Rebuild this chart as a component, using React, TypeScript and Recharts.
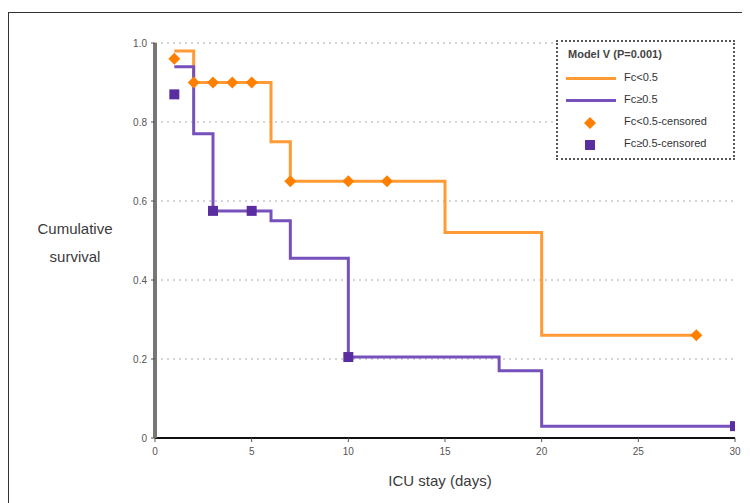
import React from 'react';
import {
  ComposedChart,
  Line,
  Scatter,
  XAxis,
  YAxis,
  CartesianGrid
} from 'recharts';

// Kaplan-Meier steps
const lowDays = [1, 2, 6, 7, 15, 20, 28];
const lowSurvival = [0.98, 0.9, 0.75, 0.65, 0.52, 0.26, 0.26];

const highDays = [1, 2, 3, 6, 7, 10, 17.8, 20, 30];
const highSurvival = [0.94, 0.77, 0.575, 0.55, 0.455, 0.205, 0.17, 0.03, 0.03];

// censored observations
const lowCensoredDays = [1, 2, 3, 4, 5, 7, 10, 12, 28];
const lowCensoredSurvival = [0.96, 0.9, 0.9, 0.9, 0.9, 0.65, 0.65, 0.65, 0.26];

const highCensoredDays = [1, 3, 5, 10, 30];
const highCensoredSurvival = [0.87, 0.575, 0.575, 0.205, 0.03];

const xTicks = [0, 5, 10, 15, 20, 25, 30];
const yTicks = [0, 0.2, 0.4, 0.6, 0.8, 1];

const legendTitle = 'Model V (P=0.001)';
const lowLabel = 'Fc<0.5';
const highLabel = 'Fc\u22650.5';

const ORANGE = '#ff9a35';
const PURPLE = '#7650bb';
const ORANGE_MARK = '#ff8000';
const PURPLE_MARK = '#5a2ea0';

const zip = (xs: number[], ys: number[]) => xs.map((x, i) => ({ x, y: ys[i] }));

const lowData = zip(lowDays, lowSurvival);
const highData = zip(highDays, highSurvival);
const lowCensored = zip(lowCensoredDays, lowCensoredSurvival);
const highCensored = zip(highCensoredDays, highCensoredSurvival);

const Diamond = (props: any) => {
  const { cx, cy } = props;
  const r = 6;
  return (
    <polygon
      points={`${cx},${cy - r} ${cx + r},${cy} ${cx},${cy + r} ${cx - r},${cy}`}
      fill={ORANGE_MARK}
    />
  );
};

const Square = (props: any) => {
  const { cx, cy } = props;
  const s = 10;
  return <rect x={cx - s / 2} y={cy - s / 2} width={s} height={s} fill={PURPLE_MARK} />;
};

const labelStyle: React.CSSProperties = {
  position: 'absolute',
  fontFamily: '"Liberation Sans", Arial, sans-serif',
  color: '#3a3a3a'
};

export default function App() {
  return (
    <div style={{ position: 'relative', width: 750, height: 503, margin: '-8px 0 0 -8px', background: '#fff', overflow: 'hidden' }}>
      <div
        style={{
          position: 'absolute',
          left: 8,
          top: 12,
          width: 800,
          height: 600,
          borderTop: '1.5px solid #333',
          borderLeft: '1.5px solid #333'
        }}
      />
      <ComposedChart
        width={750}
        height={503}
        margin={{ top: 43, right: 15, bottom: 35, left: 95 }}
        style={{ position: 'absolute', left: 0, top: 0 }}
      >
        <CartesianGrid vertical={false} stroke="#aaa" strokeDasharray="2 4" />
        <XAxis
          dataKey="x"
          type="number"
          domain={[0, 30]}
          ticks={xTicks}
          allowDataOverflow
          height={30}
          axisLine={{ stroke: '#111', strokeWidth: 2 }}
          tickLine={{ stroke: '#555' }}
          tickSize={4}
          tick={{ fontSize: 10, fill: '#555', fontFamily: '"Liberation Sans", Arial, sans-serif' }}
          tickMargin={6}
        />
        <YAxis
          type="number"
          domain={[0, 1]}
          ticks={yTicks}
          width={60}
          axisLine={{ stroke: '#777', strokeWidth: 4 }}
          tickLine={{ stroke: '#555' }}
          tickSize={4}
          tick={{ fontSize: 10, fill: '#555', fontFamily: '"Liberation Sans", Arial, sans-serif' }}
          tickFormatter={(v: number) => (v === 0 ? '0' : v.toFixed(1))}
          tickMargin={4}
        />
        <Line
          data={lowData}
          dataKey="y"
          type="stepAfter"
          stroke={ORANGE}
          strokeWidth={3}
          dot={false}
          activeDot={false}
          isAnimationActive={false}
        />
        <Line
          data={highData}
          dataKey="y"
          type="stepAfter"
          stroke={PURPLE}
          strokeWidth={3}
          dot={false}
          activeDot={false}
          isAnimationActive={false}
        />
        <Scatter data={lowCensored} dataKey="y" shape={<Diamond />} isAnimationActive={false} />
        <Scatter data={highCensored} dataKey="y" shape={<Square />} isAnimationActive={false} />
      </ComposedChart>

      <div style={{ ...labelStyle, left: 20, top: 215, width: 110, textAlign: 'center', fontSize: 15, lineHeight: '28px' }}>
        Cumulative
        <br />
        survival
      </div>
      <div style={{ ...labelStyle, left: 340, top: 472, width: 200, textAlign: 'center', fontSize: 15 }}>
        ICU stay (days)
      </div>

      <div
        style={{
          position: 'absolute',
          left: 556,
          top: 40,
          width: 175,
          height: 116,
          border: '2px dotted #555',
          background: '#fff',
          fontFamily: '"Liberation Sans", Arial, sans-serif',
          fontSize: 11,
          color: '#333'
        }}
      >
        <div style={{ position: 'absolute', left: 10, top: 6, fontWeight: 'bold', color: '#444' }}>{legendTitle}</div>
        <div style={{ position: 'absolute', left: 8, top: 35, width: 50, height: 3, background: ORANGE }} />
        <div style={{ position: 'absolute', left: 66, top: 29 }}>{lowLabel}</div>
        <div style={{ position: 'absolute', left: 8, top: 57, width: 50, height: 3, background: PURPLE }} />
        <div style={{ position: 'absolute', left: 66, top: 51 }}>{highLabel}</div>
        <svg style={{ position: 'absolute', left: 24, top: 73 }} width={16} height={16}>
          <polygon points="8,2 14,8 8,14 2,8" fill={ORANGE_MARK} />
        </svg>
        <div style={{ position: 'absolute', left: 66, top: 73 }}>{lowLabel}-censored</div>
        <svg style={{ position: 'absolute', left: 24, top: 95 }} width={16} height={16}>
          <rect x={3} y={3} width={10} height={10} fill={PURPLE_MARK} />
        </svg>
        <div style={{ position: 'absolute', left: 66, top: 95 }}>{highLabel}-censored</div>
      </div>
    </div>
  );
}
